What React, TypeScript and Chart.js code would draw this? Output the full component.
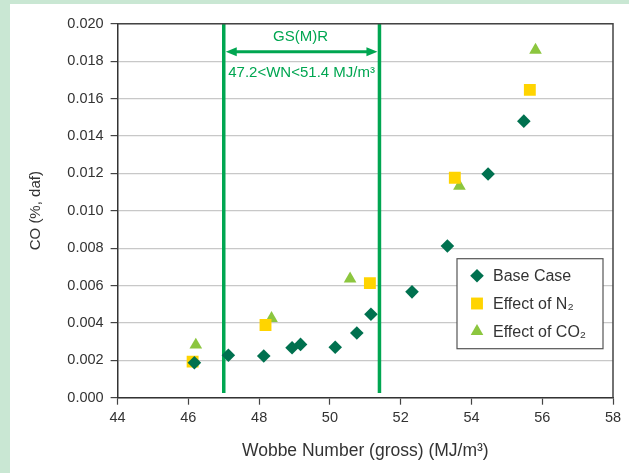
import React, { useEffect, useRef } from "react";
import { Chart, registerables } from "chart.js";
import { drawPoint } from "chart.js/helpers";

Chart.register(...registerables);

// ---- Data ----
const wobbeBase = [46.17, 47.13, 48.13, 48.93, 49.17, 50.15, 50.76, 51.16, 52.32, 53.32, 54.47, 55.48];
const coBase = [0.00187, 0.00227, 0.00223, 0.00267, 0.00285, 0.0027, 0.00346, 0.00446, 0.00566, 0.00811, 0.01196, 0.01479];

const wobbeN2 = [46.12, 48.18, 51.13, 53.53, 55.65];
const coN2 = [0.00193, 0.00389, 0.00613, 0.01176, 0.01646];

const wobbeCO2 = [46.21, 48.35, 50.57, 53.66, 55.81];
const coCO2 = [0.00282, 0.00424, 0.00636, 0.01132, 0.01859];

const seriesLabels = ["Base Case", "Effect of N\u2082", "Effect of CO\u2082"];
const seriesColors = ["#00714f", "#ffd400", "#8cc63f"];
const seriesStyles = ["rectRot", "rect", "triangle"];
const seriesRadius = [6.8, 8.4, 7.3];

const xTicks = [44, 46, 48, 50, 52, 54, 56, 58];
const yTicks = [0, 0.002, 0.004, 0.006, 0.008, 0.01, 0.012, 0.014, 0.016, 0.018, 0.02];

const xTitle = "Wobbe Number (gross) (MJ/m\u00b3)";
const yTitle = "CO (%, daf)";

const gsmrLow = 47.0;
const gsmrHigh = 51.4;
const gsmrArrowY = 0.0185;
const gsmrTitle = "GS(M)R";
const gsmrTitleY = 0.01928;
const gsmrRange = "47.2<WN<51.4 MJ/m\u00b3";
const gsmrRangeY = 0.01735;
const gsmrLineBottom = 0.00025;

const FONT = "'Liberation Sans', Arial, Helvetica, sans-serif";
const GREEN = "#00a651";

const gsmrPlugin = {
  id: "gsmr",
  beforeDatasetsDraw(chart: any) {
    const { ctx, chartArea, scales } = chart;
    const xs = scales.x;
    const ys = scales.y;
    const xl = xs.getPixelForValue(gsmrLow);
    const xr = xs.getPixelForValue(gsmrHigh);
    const yb = ys.getPixelForValue(gsmrLineBottom);
    ctx.save();
    ctx.strokeStyle = GREEN;
    ctx.fillStyle = GREEN;
    ctx.lineWidth = 3.5;
    ctx.beginPath();
    ctx.moveTo(xl, chartArea.top);
    ctx.lineTo(xl, yb);
    ctx.moveTo(xr, chartArea.top);
    ctx.lineTo(xr, yb);
    ctx.stroke();
    // arrow
    const ay = ys.getPixelForValue(gsmrArrowY);
    const a1 = xl + 2;
    const a2 = xr - 2;
    ctx.lineWidth = 3;
    ctx.beginPath();
    ctx.moveTo(a1 + 8, ay);
    ctx.lineTo(a2 - 8, ay);
    ctx.stroke();
    ctx.beginPath();
    ctx.moveTo(a1, ay);
    ctx.lineTo(a1 + 11, ay - 4.5);
    ctx.lineTo(a1 + 11, ay + 4.5);
    ctx.closePath();
    ctx.fill();
    ctx.beginPath();
    ctx.moveTo(a2, ay);
    ctx.lineTo(a2 - 11, ay - 4.5);
    ctx.lineTo(a2 - 11, ay + 4.5);
    ctx.closePath();
    ctx.fill();
    // text
    ctx.font = `15px ${FONT}`;
    ctx.textAlign = "center";
    ctx.textBaseline = "middle";
    const cx = (xl + xr) / 2;
    ctx.fillText(gsmrTitle, cx - 1, ys.getPixelForValue(gsmrTitleY));
    ctx.fillText(gsmrRange, cx, ys.getPixelForValue(gsmrRangeY));
    ctx.restore();
  },
  afterDraw(chart: any) {
    const { ctx, chartArea } = chart;
    ctx.save();
    ctx.strokeStyle = "#444";
    ctx.lineWidth = 1.5;
    ctx.beginPath();
    ctx.moveTo(chartArea.left, chartArea.top);
    ctx.lineTo(chartArea.right, chartArea.top);
    ctx.lineTo(chartArea.right, chartArea.bottom);
    ctx.stroke();
    ctx.restore();
  },
};

const legendPlugin = {
  id: "insideLegend",
  afterDraw(chart: any) {
    const { ctx, chartArea } = chart;
    const w = 146;
    const h = 90;
    const left = chartArea.right - 10 - w;
    const top = chartArea.bottom - 49 - h;
    ctx.save();
    ctx.fillStyle = "#ffffff";
    ctx.fillRect(left, top, w, h);
    ctx.strokeStyle = "#555";
    ctx.lineWidth = 1.2;
    ctx.strokeRect(left, top, w, h);
    chart.data.datasets.forEach((ds: any, i: number) => {
      const cy = top + 17 + i * 27.8;
      ctx.fillStyle = ds.backgroundColor;
      ctx.strokeStyle = ds.backgroundColor;
      drawPoint(ctx, { pointStyle: ds.pointStyle, radius: ds.pointRadius, borderWidth: 0, rotation: 0 } as any, left + 20, cy);
      ctx.fillStyle = "#333";
      ctx.font = `16px ${FONT}`;
      ctx.textAlign = "left";
      ctx.textBaseline = "middle";
      ctx.fillText(ds.label, left + 36, cy + 1);
    });
    ctx.restore();
  },
};

export default function App() {
  const canvasRef = useRef<HTMLCanvasElement | null>(null);

  useEffect(() => {
    document.body.style.margin = "0";
    document.body.style.background = "#c9e7d3";
    const canvas = canvasRef.current;
    if (!canvas) return;
    const series = [
      { xs: wobbeBase, ys: coBase },
      { xs: wobbeN2, ys: coN2 },
      { xs: wobbeCO2, ys: coCO2 },
    ];
    const chart = new Chart(canvas, {
      type: "scatter",
      data: {
        datasets: series.map((s, i) => ({
          label: seriesLabels[i],
          data: s.xs.map((x, j) => ({ x, y: s.ys[j] })),
          backgroundColor: seriesColors[i],
          borderColor: seriesColors[i],
          pointStyle: seriesStyles[i] as any,
          pointRadius: seriesRadius[i],
          pointHoverRadius: seriesRadius[i],
          pointBorderWidth: 0,
          borderWidth: 0,
          showLine: false,
        })),
      },
      options: {
        animation: false,
        responsive: true,
        maintainAspectRatio: false,
        events: [],
        layout: { padding: { top: 19.7, right: 16, left: 0, bottom: 0 } },
        plugins: {
          legend: { display: false },
          tooltip: { enabled: false },
        },
        scales: {
          x: {
            type: "linear",
            min: 44,
            max: 58,
            afterBuildTicks: (scale: any) => {
              scale.ticks = xTicks.map((v) => ({ value: v }));
            },
            afterFit: (scale: any) => {
              scale.height = 75.3;
            },
            ticks: {
              color: "#333",
              font: { family: FONT, size: 14.5 },
              padding: 5,
              maxRotation: 0,
              callback: (v: any) => String(v),
            },
            grid: {
              drawOnChartArea: false,
              drawTicks: true,
              tickLength: 7,
              tickColor: "#444",
              tickWidth: 1.2,
            },
            border: { color: "#333", width: 1.5 },
            title: {
              display: true,
              text: xTitle,
              color: "#333",
              font: { family: FONT, size: 17.5 },
              padding: { top: 0, bottom: 11.5 },
            },
          },
          y: {
            type: "linear",
            min: 0,
            max: 0.02,
            afterBuildTicks: (scale: any) => {
              scale.ticks = yTicks.map((v) => ({ value: v }));
            },
            afterFit: (scale: any) => {
              scale.width = 107.6;
            },
            ticks: {
              color: "#333",
              font: { family: FONT, size: 14.5 },
              padding: 7,
              callback: (v: any) => Number(v).toFixed(3),
            },
            grid: {
              color: "#c8c8c8",
              lineWidth: 1.2,
              drawTicks: true,
              tickLength: 7,
              tickColor: "#444",
              tickWidth: 1.2,
            },
            border: { color: "#333", width: 1.5 },
            title: {
              display: true,
              text: yTitle,
              color: "#333",
              font: { family: FONT, size: 15 },
              padding: { top: 16.6, bottom: 0 },
            },
          },
        },
      },
      plugins: [gsmrPlugin, legendPlugin],
    });
    return () => chart.destroy();
  }, []);

  return (
    <div style={{ position: "absolute", left: 0, top: 0, width: 629, height: 473, background: "#c9e7d3", overflow: "hidden" }}>
      <div style={{ position: "absolute", left: 10, top: 4, width: 619, height: 469, background: "#ffffff" }}>
        <canvas ref={canvasRef} />
      </div>
    </div>
  );
}
